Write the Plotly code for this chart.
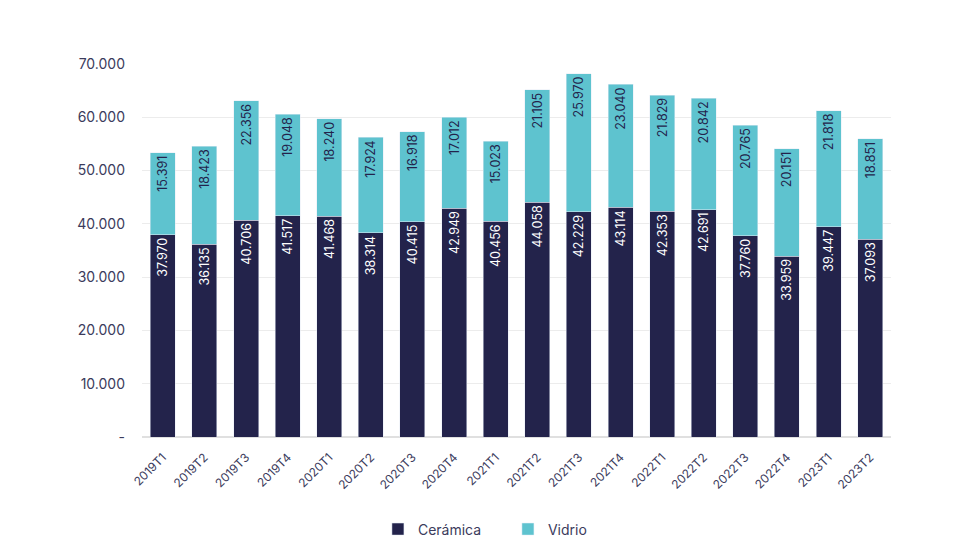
import plotly.graph_objects as go

categories = ["2019T1","2019T2","2019T3","2019T4","2020T1","2020T2","2020T3","2020T4",
              "2021T1","2021T2","2021T3","2021T4","2022T1","2022T2","2022T3","2022T4",
              "2023T1","2023T2"]
ceramica = [37970,36135,40706,41517,41468,38314,40415,42949,40456,44058,42229,43114,
            42353,42691,37760,33959,39447,37093]
vidrio = [15391,18423,22356,19048,18240,17924,16918,17012,15023,21105,25970,23040,
          21829,20842,20765,20151,21818,18851]
ytick_vals = [0,10000,20000,30000,40000,50000,60000,70000]
ytick_text = ["-","10.000","20.000","30.000","40.000","50.000","60.000","70.000"]

def fmt(v):
    return f"{v:,}".replace(",", ".")

C_DARK = "#23234b"
C_LIGHT = "#5ec3cf"

fig = go.Figure()
fig.add_trace(go.Bar(
    x=categories, y=ceramica, name="Cerámica", marker_color=C_DARK,
    text=[fmt(v) for v in ceramica], textposition="inside", textangle=-90,
    insidetextanchor="end", textfont=dict(color="white", size=12.5, family="Inter"),
    hoverinfo="skip"))
fig.add_trace(go.Bar(
    x=categories, y=vidrio, name="Vidrio", marker_color=C_LIGHT,
    text=[fmt(v) for v in vidrio], textposition="inside", textangle=-90,
    insidetextanchor="end", textfont=dict(color=C_DARK, size=12.5, family="Inter"),
    hoverinfo="skip"))

fig.update_layout(
    barmode="stack", bargap=0.4,
    width=972, height=552,
    margin=dict(l=134, r=89, t=56, b=123, autoexpand=False),
    plot_bgcolor="white", paper_bgcolor="white",
    font=dict(family="Inter", color="#3b3b5c"),
    legend=dict(orientation="h", x=0.315, xanchor="left", y=-0.205, yanchor="top",
                font=dict(size=14, color="#3b3b5c"),
                entrywidth=85, entrywidthmode="pixels",
                traceorder="normal"),
    showlegend=True,
)
fig.update_yaxes(range=[0, 70000], tickvals=ytick_vals, ticktext=ytick_text,
                 showgrid=True, gridcolor="#ececec", gridwidth=1,
                 zeroline=True, zerolinecolor="#e0e0e0", automargin=False,
                 ticklabelstandoff=16,
                 tickfont=dict(size=14, color="#3b3b5c"), ticks="", ticklen=0)
fig.update_xaxes(tickangle=-45, tickfont=dict(size=12, color="#3b3b5c"),
                 showline=False, ticks="", automargin=False, ticklabelstandoff=10)

fig.write_html("out.html")
